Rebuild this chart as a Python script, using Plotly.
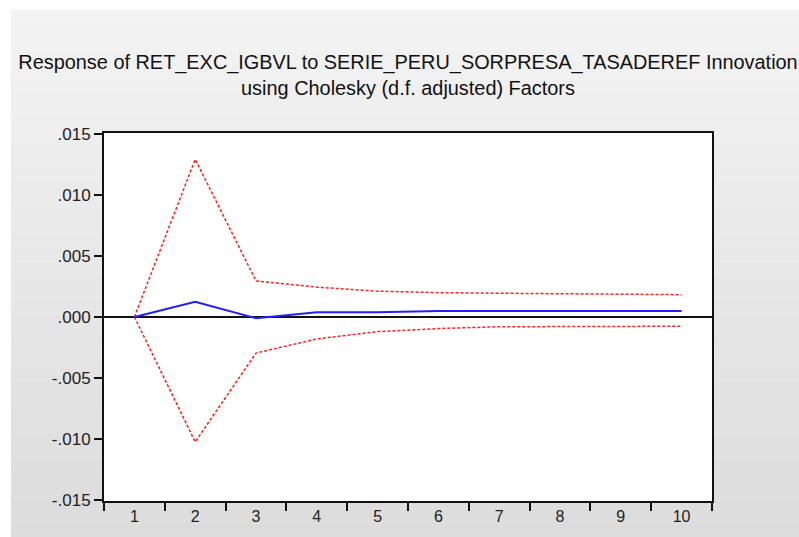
import plotly.graph_objects as go

periods = [1, 2, 3, 4, 5, 6, 7, 8, 9, 10]
response = [0.0, 0.00125, -0.0001, 0.0004, 0.0004, 0.0005, 0.0005, 0.0005, 0.0005, 0.0005]
upper_band = [0.0, 0.01294, 0.00296, 0.00245, 0.00212, 0.0020, 0.00195, 0.0019, 0.00185, 0.00183]
lower_band = [0.0, -0.01025, -0.00296, -0.0018, -0.0012, -0.00095, -0.0008, -0.00078, -0.00077, -0.00076]
ytick_vals = [-0.015, -0.010, -0.005, 0.0, 0.005, 0.010, 0.015]
ytick_text = ["-.015", "-.010", "-.005", ".000", ".005", ".010", ".015"]
title_lines = ["Response of RET_EXC_IGBVL to SERIE_PERU_SORPRESA_TASADEREF Innovation",
               "using Cholesky (d.f. adjusted) Factors"]

W, H = 799, 537
L, R, T, B = 104, 712, 133, 501

def px_x(p):
    return (p - L) / (R - L)

def px_y(q):
    return (B - q) / (B - T)

fig = go.Figure()
fig.add_trace(go.Scatter(x=periods, y=upper_band, mode="lines",
                         line=dict(color="#ff2020", width=1.5, dash="3px,2px"), hoverinfo="skip"))
fig.add_trace(go.Scatter(x=periods, y=lower_band, mode="lines",
                         line=dict(color="#ff2020", width=1.5, dash="3px,2px"), hoverinfo="skip"))
fig.add_trace(go.Scatter(x=periods, y=response, mode="lines",
                         line=dict(color="#2020ff", width=2), hoverinfo="skip"))

# gradient background bands
shapes = []
nb = 40
top_c, bot_c = 243, 220
y0px, y1px = 10, H + 2
for i in range(nb):
    qa = y0px + (y1px - y0px) * i / nb
    qb = y0px + (y1px - y0px) * (i + 1) / nb + 0.5
    c = round(top_c + (bot_c - top_c) * i / (nb - 1))
    shapes.append(dict(type="rect", xref="paper", yref="paper", layer="below",
                       x0=px_x(11), x1=px_x(W + 2), y0=px_y(qb), y1=px_y(qa),
                       fillcolor=f"rgb({c},{c},{c})", line=dict(width=0)))
shapes.append(dict(type="rect", xref="paper", yref="paper", layer="below",
                   x0=0, x1=1, y0=0, y1=1, fillcolor="white", line=dict(width=0)))

fig.update_layout(
    width=W, height=H,
    margin=dict(l=L, r=W - R, t=T, b=H - B),
    paper_bgcolor="white", plot_bgcolor="white",
    showlegend=False,
    shapes=shapes,
    font=dict(family="Liberation Sans, Arial, sans-serif", color="#222"),
    title=dict(text="<br>".join(title_lines), x=408 / W, xref="container", xanchor="center",
               y=1 - 69 / H, yanchor="middle",
               font=dict(size=19.9, color="#111", family="Liberation Sans, Arial")),
    xaxis=dict(range=[0.5, 10.5], tickvals=periods, ticktext=[str(p) for p in periods],
               ticks="", showgrid=False, zeroline=False,
               showline=True, linecolor="#111", linewidth=2, mirror=True,
               tickfont=dict(size=16),
               minor=dict(tick0=0.5, dtick=1, ticks="outside", ticklen=8, tickwidth=2,
                          tickcolor="#111", showgrid=False)),
    yaxis=dict(range=[-0.0151, 0.0151], tickvals=ytick_vals, ticktext=ytick_text,
               ticks="outside", ticklen=8, tickwidth=2, tickcolor="#111",
               showgrid=False, zeroline=True, zerolinecolor="#111", zerolinewidth=1.5,
               showline=True, linecolor="#111", linewidth=2, mirror=True,
               tickfont=dict(size=17)),
)
fig.write_html("out.html", config={"displayModeBar": False},
               post_script="document.body.style.margin='0';document.body.style.overflow='hidden';")
